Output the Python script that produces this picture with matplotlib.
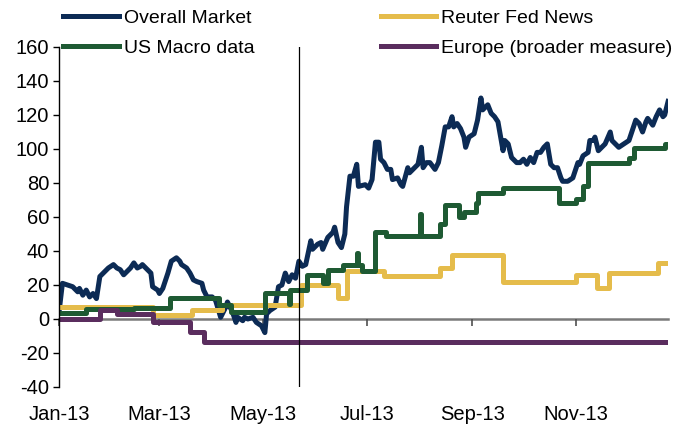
import numpy as np
import pandas as pd
import matplotlib
matplotlib.use("Agg")
import matplotlib.pyplot as plt
import matplotlib.dates as mdates

plt.rcParams['font.family'] = ['Liberation Sans Narrow', 'Liberation Sans', 'DejaVu Sans']
plt.rcParams['axes.unicode_minus'] = False

# days since 1 Jan 2013
market_days = [0, 2, 5, 8, 11, 12, 14, 16, 18, 20, 22, 24, 26, 29, 32, 34, 36, 38, 40, 42,
               44, 46, 48, 49, 52, 54, 55, 58, 59, 61, 64, 66, 69, 71, 72, 75, 77, 79, 81, 84,
               85, 87, 90, 92, 95, 98, 99, 102, 104, 105, 108, 109, 111, 114, 116, 119, 121, 122, 124, 127,
               129, 131, 133, 135, 137, 139, 141, 143, 145, 148, 149, 152, 154, 155, 158, 161, 162, 164, 166, 168,
               169, 171, 173, 175, 176, 180, 182, 184, 186, 188, 189, 191, 193, 195, 196, 199, 201, 202, 205, 206,
               208, 211, 213, 214, 216, 218, 221, 223, 225, 227, 229, 231, 232, 234, 236, 238, 239, 241, 244, 246,
               248, 249, 252, 254, 256, 258, 261, 262, 264, 266, 269, 271, 273, 275, 277, 279, 281, 283, 285, 287,
               289, 291, 293, 295, 296, 299, 302, 305, 306, 308, 311, 312, 314, 315, 317, 319, 321, 324, 325, 327,
               329, 332, 335, 337, 339, 341, 343, 345, 346, 349, 351, 353, 355, 356, 358]
market_vals = [4, 21, 20, 19, 16, 18, 14, 17, 13, 15, 12, 25, 27, 30, 32, 30, 29, 26, 28, 30,
               33, 30, 31, 32, 29, 27, 19, 17, 15, 18, 27, 34, 36, 34, 32, 30, 27, 23, 22, 21,
               17, 13, 13, 11, 1, 7, 10, 4, -2, 1, -1, 1, 0, 1, -2, -4, -8, 3, 5, 7,
               19, 20, 27, 22, 26, 24, 34, 31, 32, 46, 41, 44, 45, 41, 48, 51, 54, 45, 42, 50,
               66, 84, 84, 91, 78, 79, 77, 82, 104, 104, 94, 92, 88, 88, 82, 83, 79, 78, 89, 86,
               88, 91, 101, 89, 92, 92, 88, 92, 102, 113, 113, 119, 113, 115, 112, 107, 101, 107, 109, 117,
               130, 123, 126, 121, 119, 116, 99, 105, 103, 95, 92, 92, 94, 91, 95, 92, 98, 98, 101, 103,
               91, 89, 89, 83, 81, 81, 83, 92, 91, 96, 98, 105, 105, 107, 99, 101, 103, 110, 105, 103,
               101, 103, 105, 111, 117, 115, 110, 116, 118, 114, 119, 123, 119, 120, 128]

macro_days = [0, 16, 44, 65, 94, 101, 121, 135, 136, 146, 155, 158, 167, 175, 176, 178, 186, 192,
              212, 213, 224, 227, 235, 238, 245, 246, 261, 294, 304, 308, 311, 335, 338, 356]
macro_vals = [3.5, 6, 6.5, 12.5, 8, 4, 15, 9, 17, 26, 21, 29, 32, 39, 32, 28, 51, 49,
              62, 49, 56, 67, 60, 63, 68, 74, 77, 68, 70.5, 78, 92, 94.5, 100.5, 103]

fed_days = [0, 55, 78, 96, 142, 164, 169, 191, 224, 231, 261, 304, 316, 323, 352]
fed_vals = [7, 2.5, 5.5, 8, 20, 12.5, 28, 25, 30, 37.5, 22, 26, 18, 27, 33]

europe_days = [0, 24, 34, 55, 77, 85]
europe_vals = [0, 5, 3, -2, -7.5, -13.5]

last_day = 358
event_day = 141  # vertical marker, late May 2013

base = pd.Timestamp('2013-01-01')


def to_dates(days):
    return base + pd.to_timedelta(np.asarray(days), unit='D')


def step_xy(days, vals):
    return to_dates(list(days) + [last_day]), list(vals) + [vals[-1]]


navy = '#0c2b55'
green = '#1e5a33'
yellow = '#e5bc4b'
purple = '#5a2d5e'

fig = plt.figure(figsize=(6.73, 4.30), dpi=100)
ax = fig.add_axes([0.0877, 0.1, 0.905, 0.7907])

lw = 3.6
l1, = ax.plot(to_dates(market_days), market_vals, color=navy, lw=lw, label='Overall Market')
x, y = step_xy(fed_days, fed_vals)
l3, = ax.step(x, y, where='post', color=yellow, lw=lw, label='Reuter Fed News')
x, y = step_xy(macro_days, macro_vals)
l2, = ax.step(x, y, where='post', color=green, lw=lw, label='US Macro data')
x, y = step_xy(europe_days, europe_vals)
l4, = ax.step(x, y, where='post', color=purple, lw=lw, label='Europe (broader measure)')

ax.axvline(to_dates([event_day])[0], color='black', lw=0.9)

ax.set_xlim(base, to_dates([last_day])[0])
ax.set_ylim(-40, 160)
ax.set_yticks(np.arange(-40, 161, 20))

ax.xaxis.set_major_locator(mdates.MonthLocator(bymonth=[1, 3, 5, 7, 9, 11]))
ax.xaxis.set_major_formatter(mdates.DateFormatter('%b-%y'))

for s in ['top', 'right']:
    ax.spines[s].set_visible(False)
ax.spines['left'].set_color('black')
ax.spines['left'].set_linewidth(1.0)
ax.spines['bottom'].set_position(('data', 0))
ax.spines['bottom'].set_color('#7a7a7a')
ax.spines['bottom'].set_linewidth(1.8)
ax.spines['bottom'].set_zorder(0.5)

ax.tick_params(axis='y', direction='out', length=4, width=1, labelsize=14.5, pad=3)
ax.tick_params(axis='x', direction='out', length=5, width=1.2, color='#505050',
               labelsize=14.5, pad=57)

fig.legend(handles=[l1, l2, l3, l4], loc='upper left', bbox_to_anchor=(0.074, 1.01),
           ncol=2, frameon=False, fontsize=14, handlelength=2.85, handletextpad=0.26,
           columnspacing=6.5, labelspacing=0.62, borderpad=0.2)

fig.savefig('out.png', dpi=100)
